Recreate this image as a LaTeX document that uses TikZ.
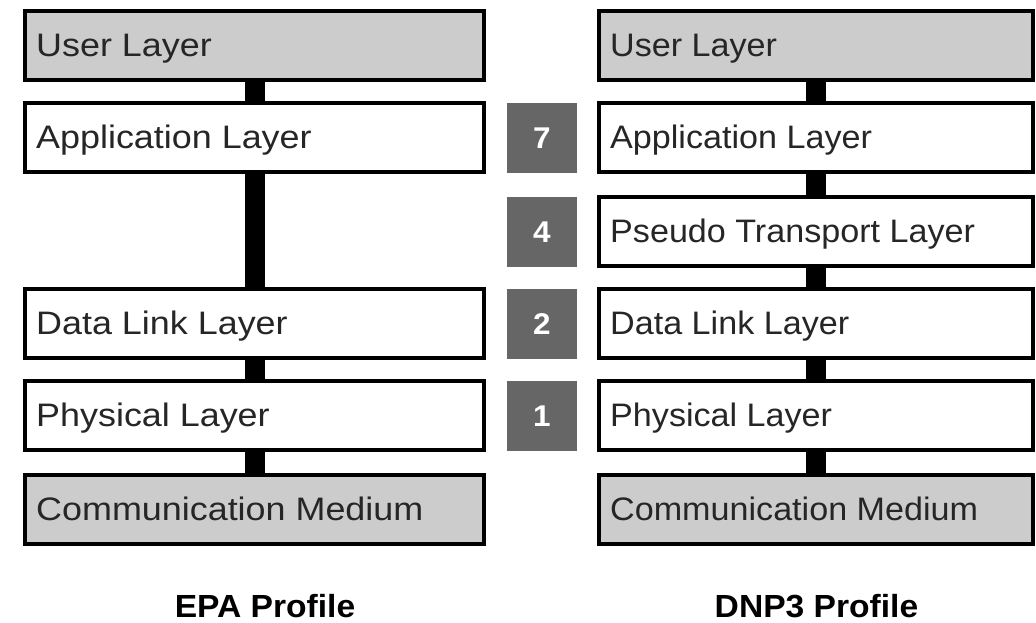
\documentclass[tikz,border=0pt]{standalone}
\usepackage{fontspec}
\setmainfont{Liberation Sans}[FakeStretch=1.05]
\newfontfamily\widefont{Liberation Sans}[FakeStretch=1.105]
\definecolor{layergray}{HTML}{CCCCCC}
\definecolor{numgray}{HTML}{666666}
\tikzset{
  lbox/.style={draw=black, line width=4pt, fill=white, minimum width=459pt, minimum height=69pt, inner sep=0pt},
  rbox/.style={draw=black, line width=4pt, fill=white, minimum width=434pt, minimum height=69pt, inner sep=0pt},
  shaded/.style={fill=layergray},
  lbl/.style={anchor=base west, inner sep=0pt, font=\fontsize{32.5}{36}\selectfont, text=black!85},
  llbl/.style={lbl, font=\widefont\fontsize{32.5}{36}\selectfont},
  numbox/.style={fill=numgray, minimum width=70pt, minimum height=70pt, inner sep=0pt, text=white, font=\bfseries\fontsize{30}{34}\selectfont},
  link/.style={line width=20pt, draw=black},
  title/.style={anchor=base, inner sep=0pt, font=\bfseries\fontsize{32}{35}\selectfont}
}
\begin{document}
\begin{tikzpicture}[x=1pt,y=-1pt]
\useasboundingbox (0,0) rectangle (1036,623);
% left column
\node[lbox,shaded] (lu) at (254.5,45.5) {};
\node[lbox] (la) at (254.5,137.5) {};
\node[lbox] (ld) at (254.5,323) {};
\node[lbox] (lp) at (254.5,415.5) {};
\node[lbox,shaded] (lc) at (254.5,509) {};
% right column
\node[rbox,shaded] (ru) at (816,45.5) {};
\node[rbox] (ra) at (816,137.5) {};
\node[rbox] (rt) at (816,231) {};
\node[rbox] (rd) at (816,323) {};
\node[rbox] (rp) at (816,415.5) {};
\node[rbox,shaded] (rc) at (816,509) {};
% connectors
\draw[link] ([xshift=0.5pt]lu.south) -- ([xshift=0.5pt]la.north);
\draw[link] ([xshift=0.5pt]la.south) -- ([xshift=0.5pt]ld.north);
\draw[link] ([xshift=0.5pt]ld.south) -- ([xshift=0.5pt]lp.north);
\draw[link] ([xshift=0.5pt]lp.south) -- ([xshift=0.5pt]lc.north);
\draw[link] (ru.south) -- (ra.north);
\draw[link] (ra.south) -- (rt.north);
\draw[link] (rt.south) -- (rd.north);
\draw[link] (rd.south) -- (rp.north);
\draw[link] (rp.south) -- (rc.north);
% labels left
\node[llbl] (tlu) at ([xshift=13pt,yshift=-11pt]lu.west) {User Layer};
\node[llbl] (tla) at ([xshift=13pt,yshift=-11pt]la.west) {Application Layer};
\node[llbl] (tld) at ([xshift=13pt,yshift=-11pt]ld.west) {Data Link Layer};
\node[llbl] (tlp) at ([xshift=13pt,yshift=-11pt]lp.west) {Physical Layer};
\node[llbl] (tlc) at ([xshift=13pt,yshift=-11pt]lc.west) {Communication Medium};
% labels right
\node[lbl] (tru) at ([xshift=13pt,yshift=-11pt]ru.west) {User Layer};
\node[lbl] (tra) at ([xshift=13pt,yshift=-11pt]ra.west) {Application Layer};
\node[lbl] (trt) at ([xshift=13pt,yshift=-11pt]rt.west) {Pseudo Transport Layer};
\node[lbl] (trd) at ([xshift=13pt,yshift=-11pt]rd.west) {Data Link Layer};
\node[lbl] (trp) at ([xshift=13pt,yshift=-11pt]rp.west) {Physical Layer};
\node[lbl] (trc) at ([xshift=13pt,yshift=-11pt]rc.west) {Communication Medium};
% layer numbers
\node[numbox] (n7) at (542,138) {7};
\node[numbox] (n4) at (542,232) {4};
\node[numbox] (n2) at (542,324) {2};
\node[numbox] (n1) at (542,416) {1};
% titles
\node[title] (tepa) at (265,617) {EPA Profile};
\node[title] (tdnp) at (816.5,617) {DNP3 Profile};
\end{tikzpicture}
\end{document}
